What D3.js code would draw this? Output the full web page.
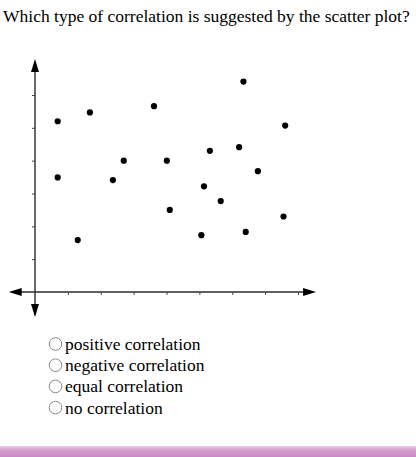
<!DOCTYPE html>
<html>
<head>
<meta charset="utf-8">
<script src="https://cdn.jsdelivr.net/npm/d3@7"></script>
<style>
  html, body { margin: 0; padding: 0; background: #fff; }
  svg { display: block; }
  .serif { font-family: "Liberation Serif", "Times New Roman", Tinos, "DejaVu Serif", serif; }
</style>
</head>
<body>
<script>
const questionText = "Which type of correlation is suggested by the scatter plot?";
const pointX = [0.69, 1.67, 3.62, 6.34, 7.61, 0.69, 2.37, 2.70, 4.01, 5.32, 6.21, 6.78, 5.14, 5.65, 4.10, 7.56, 1.30, 5.06, 6.41];
const pointY = [5.20, 5.47, 5.66, 6.41, 5.07, 3.49, 3.41, 4.00, 4.00, 4.30, 4.41, 3.68, 3.22, 2.77, 2.50, 2.30, 1.58, 1.73, 1.83];
const xTicks = [1, 2, 3, 4, 5, 6, 7, 8];
const yTicks = [1, 2, 3, 4, 5, 6];
const answerOptions = ["positive correlation", "negative correlation", "equal correlation", "no correlation"];

const W = 416, H = 457;
const svg = d3.select("body").append("svg").attr("width", W).attr("height", H);

const defs = svg.append("defs");
const grad = defs.append("linearGradient").attr("id", "pinkbar").attr("x1", 0).attr("y1", 0).attr("x2", 0).attr("y2", 1);
grad.append("stop").attr("offset", "0%").attr("stop-color", "#f0d0ec");
grad.append("stop").attr("offset", "30%").attr("stop-color", "#d9a2d3");
grad.append("stop").attr("offset", "100%").attr("stop-color", "#c888c2");

svg.append("text")
  .attr("class", "serif")
  .attr("x", 3).attr("y", 22)
  .attr("font-size", 17.5).attr("fill", "#000")
  .text(questionText);

const x = d3.scaleLinear().domain([0, 8]).range([35, 298]);
const y = d3.scaleLinear().domain([0, 6]).range([292, 95]);

const axisColor = "#2a2a2a";
const g = svg.append("g");

g.append("line").attr("x1", x(-0.7)).attr("x2", x(8.4)).attr("y1", y(0)).attr("y2", y(0))
  .attr("stroke", axisColor).attr("stroke-width", 1.4);
g.append("line").attr("x1", x(0)).attr("x2", x(0)).attr("y1", y(7.0)).attr("y2", y(-0.7))
  .attr("stroke", axisColor).attr("stroke-width", 1.4);

const ah = 13, aw = 4;
const x0 = x(0), y0 = y(0);
const tipL = x(-0.8), tipR = x(8.55), tipT = y(7.1), tipB = y(-0.76);
g.append("path").attr("d", `M${tipL},${y0} L${tipL + ah},${y0 - aw} L${tipL + ah},${y0 + aw} Z`).attr("fill", "#000");
g.append("path").attr("d", `M${tipR},${y0} L${tipR - ah},${y0 - aw} L${tipR - ah},${y0 + aw} Z`).attr("fill", "#000");
g.append("path").attr("d", `M${x0},${tipT} L${x0 - aw},${tipT + ah} L${x0 + aw},${tipT + ah} Z`).attr("fill", "#000");
g.append("path").attr("d", `M${x0},${tipB} L${x0 - aw},${tipB - ah} L${x0 + aw},${tipB - ah} Z`).attr("fill", "#000");

const xAxis = d3.axisBottom(x).tickValues(xTicks).tickSize(3).tickFormat("");
const yAxis = d3.axisLeft(y).tickValues(yTicks).tickSize(3).tickFormat("");
const gx = g.append("g").attr("transform", `translate(0,${y0})`).call(xAxis);
const gy = g.append("g").attr("transform", `translate(${x0},0)`).call(yAxis);
[gx, gy].forEach(a => {
  a.select(".domain").remove();
  a.selectAll(".tick line").attr("stroke", "#444").attr("stroke-width", 1);
});

g.selectAll("circle.pt")
  .data(pointX.map((v, i) => ({ x: v, y: pointY[i] })))
  .join("circle")
  .attr("class", "pt")
  .attr("cx", d => x(d.x)).attr("cy", d => y(d.y))
  .attr("r", 3.1).attr("fill", "#000");

const opts = svg.append("g");
answerOptions.forEach((t, i) => {
  const by = 350 + i * 21.2;
  opts.append("circle").attr("cx", 55.5).attr("cy", by - 6).attr("r", 6.3)
    .attr("fill", "#fff").attr("stroke", "#8a8a8a").attr("stroke-width", 1);
  opts.append("text").attr("class", "serif").attr("x", 65).attr("y", by)
    .attr("font-size", 17.5).attr("fill", "#000")
    .text(t);
});

svg.append("rect").attr("x", 0).attr("y", 446).attr("width", W).attr("height", 11).attr("fill", "url(#pinkbar)");
</script>
</body>
</html>
